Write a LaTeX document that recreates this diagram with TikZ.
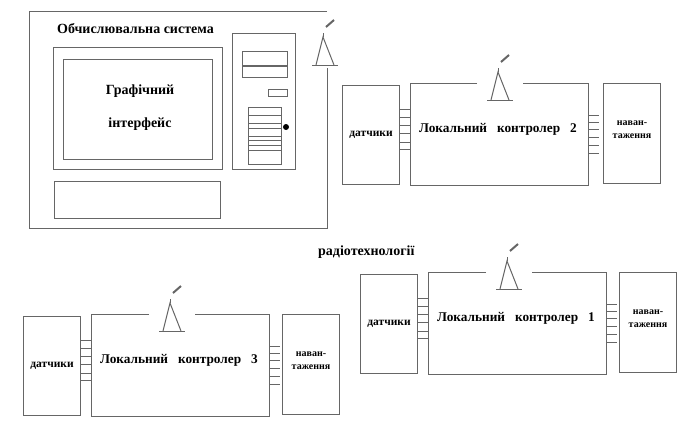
\documentclass[tikz,border=0pt]{standalone}
\usepackage{fontspec}
\setmainfont{Liberation Serif}
\usetikzlibrary{positioning}

\definecolor{linegray}{gray}{0.4}
\tikzset{
  box/.style={draw=linegray, line width=1pt, inner sep=0pt, font=\bfseries\fontsize{11.5}{13}\selectfont, align=center},
  ctrlbox/.style={inner sep=0pt},
  line/.style={draw=linegray, line width=1pt},
  label/.style={font=\bfseries\fontsize{14}{16}\selectfont, inner sep=0pt}
}

% one controller with its sensors, loads and antenna
\newcommand{\localunit}[6]{
  \begin{scope}[shift={(#2,#3)}]
    \node[box, anchor=north west, minimum width=57pt, minimum height=99pt] (sensor#1) at (342,85) {датчики};
    \node[ctrlbox, anchor=north west, minimum width=178pt, minimum height=102pt] (ctrl#1) at (410,83) {};
    \node[label, font=\bfseries\fontsize{13.3}{15}\selectfont] (ctrltext#1) at (498,129) {Локальний\hspace{0.5em} контролер\hspace{0.5em} #5};
    \node[box, anchor=north west, minimum width=57pt, minimum height=100pt] (load#1) at (603+#6,83) {};
    \node[font=\bfseries\fontsize{10}{13}\selectfont, align=center, inner sep=0pt] (loadtext#1) at (632+#6,130) {наван-\\таження};
    % rectangle of the controller, open under the antenna
    \draw[line] (477+#4,83) -- (ctrl#1.north west) -- (ctrl#1.south west) -- (ctrl#1.south east) -- (ctrl#1.north east) -- (523+#4,83);
    % connections
    \foreach \yy in {109,117,125,133,142,149}
      \draw[line] (sensor#1.east |- 0,\yy) -- (ctrl#1.west |- 0,\yy);
    \foreach \yy in {115,122,129,137,145,153}
      \draw[line] (ctrl#1.east |- 0,\yy) -- ++(11,0);
    \mastsign{500+#4}{100}
  \end{scope}
}

% antenna, base centre at x,y
\newcommand{\mastsign}[2]{
  \draw[line] (#1-13,#2) -- (#1+13,#2);
  \draw[line] (#1-9,#2) -- (#1-2,#2-28) -- (#1+9,#2);
  \draw[line] (#1-2,#2-28) -- (#1-2,#2-32);
  \draw[line, line width=2pt] (#1+1,#2-38) -- (#1+9,#2-45);
}

\begin{document}
\begin{tikzpicture}[x=1pt, y=-1pt]
  \useasboundingbox (0,0) rectangle (692,436);

  % Computer system frame, open at the antenna
  \coordinate (frametop) at (327,12);
  \coordinate (framegap) at (327,68);
  \draw[line] (frametop) -- (29,12) -- (29,228) -- (327,228) -- (framegap);
  \node[label, anchor=west] (systitle) at (57,29) {Обчислювальна система};
  \mastsign{325}{65}

  % Monitor
  \node[box, anchor=north west, minimum width=169pt, minimum height=122pt] (monitor) at (53,47) {};
  \node[box, anchor=north west, minimum width=149pt, minimum height=100pt] (screen) at (63,59) {};
  \node[label] (guione) at (140,91) {Графічний};
  \node[label] (guitwo) at (140,124) {інтерфейс};

  % Keyboard
  \node[box, anchor=north west, minimum width=166pt, minimum height=37pt] (keyboard) at (54,181) {};

  % Tower
  \node[box, anchor=north west, minimum width=63pt, minimum height=136pt] (tower) at (232,33) {};
  \node[box, anchor=north west, minimum width=45pt, minimum height=26pt] (drive) at (242,51) {};
  \draw[line, line width=1.6pt] (drive.west |- 0,66) -- (drive.east |- 0,66);
  \node[box, anchor=north west, minimum width=19pt, minimum height=7pt] (slot) at (268,89) {};
  \node[box, anchor=north west, minimum width=33pt, minimum height=57pt] (bays) at (248,107) {};
  \foreach \yy in {115,123,128,136,140,145,150}
    \draw[line] (bays.west |- 0,\yy) -- (bays.east |- 0,\yy);
  \node[circle, fill=black, minimum size=6pt, inner sep=0pt] (button) at (286,127) {};

  % Controllers
  \localunit{A}{0}{0}{0}{2}{0}
  \localunit{B}{18}{189}{-9}{1}{-2}
  \localunit{C}{-319}{231}{-9}{3}{-2}

  \node[label, anchor=west] (radio) at (318,252) {радіотехнології};
\end{tikzpicture}
\end{document}
